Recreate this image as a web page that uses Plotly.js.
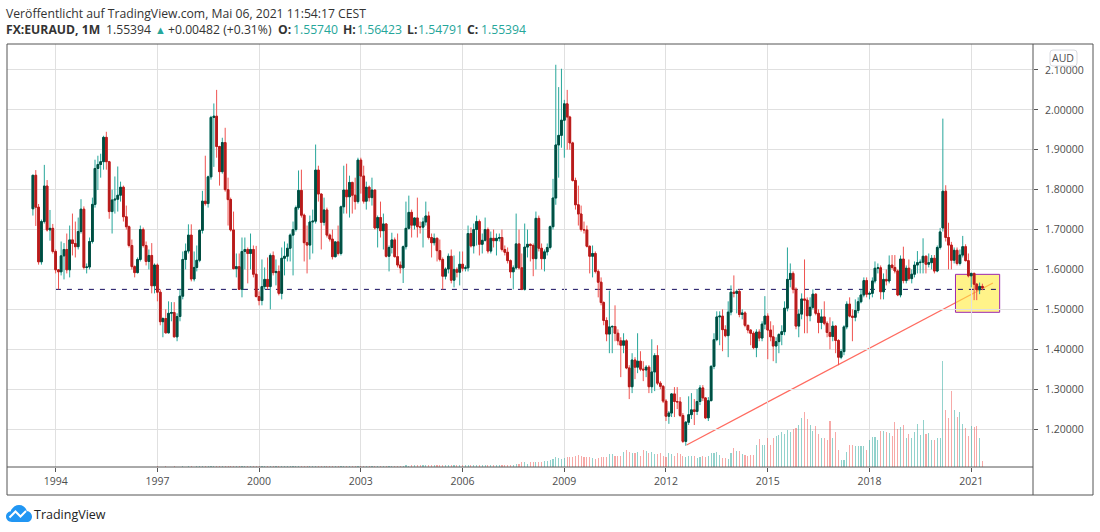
<!DOCTYPE html>
<html>
<head>
<meta charset="utf-8">
<script src="https://cdn.plot.ly/plotly-3.0.1.min.js"></script>
<style>
  html, body {margin: 0; padding: 0; background: #fff;}
  #chart {width: 1100px; height: 532px; position: relative;}
  #logo {position: absolute; left: 6px; top: 505px; z-index: 5;}
</style>
</head>
<body>
<div id="chart"></div>
<svg id="logo" width="26" height="18" viewBox="0 0 26 18">
  <path d="M6 17 C2 17 0 14 0 11.5 C0 8.5 2.5 6.5 4.5 6.5 C6 2.5 9.5 0 13 0 C17 0 20 2.5 20.8 6 C23.8 6.3 26 8.7 26 11.7 C26 14.7 23.7 17 21 17 Z" fill="#2196f3"/>
  <path d="M3.5 12.5 L9.5 6.5 L14.5 11.5 L20 6" fill="none" stroke="#fff" stroke-width="2"/>
</svg>
<script>
/////Data/////
const START_YEAR = 1993;
const START_MONTH = 5;
const opens = [
  1.752,1.836,1.756,1.619,1.720,1.809,1.699,1.703,1.645,1.599,
  1.594,1.634,1.650,1.599,1.674,1.665,1.657,1.695,1.751,1.605,
  1.606,1.670,1.763,1.853,1.863,1.870,1.931,1.870,1.745,1.774,
  1.776,1.786,1.806,1.732,1.707,1.660,1.607,1.592,1.625,1.700,
  1.660,1.620,1.635,1.559,1.611,1.543,1.469,1.477,1.441,1.490,
  1.492,1.431,1.482,1.533,1.625,1.646,1.686,1.576,1.605,1.623,
  1.698,1.771,1.765,1.832,1.981,1.984,1.908,1.845,1.918,1.800,
  1.775,1.699,1.602,1.607,1.550,1.645,1.650,1.640,1.650,1.588,
  1.532,1.522,1.557,1.575,1.557,1.635,1.592,1.595,1.540,1.628,
  1.633,1.653,1.686,1.700,1.755,1.798,1.736,1.667,1.661,1.719,
  1.721,1.849,1.789,1.718,1.749,1.686,1.676,1.632,1.669,1.640,
  1.757,1.799,1.782,1.818,1.786,1.770,1.874,1.834,1.771,1.806,
  1.780,1.799,1.704,1.730,1.697,1.714,1.633,1.655,1.674,1.632,
  1.611,1.604,1.657,1.703,1.743,1.711,1.729,1.707,1.706,1.719,
  1.734,1.680,1.667,1.678,1.647,1.625,1.583,1.601,1.633,1.573,
  1.600,1.593,1.613,1.603,1.604,1.690,1.659,1.700,1.720,1.663,
  1.673,1.700,1.646,1.678,1.672,1.678,1.680,1.650,1.643,1.622,
  1.594,1.604,1.664,1.604,1.550,1.656,1.663,1.660,1.627,1.728,
  1.653,1.627,1.644,1.655,1.707,1.779,1.912,1.936,1.974,2.015,
  1.982,1.917,1.823,1.762,1.739,1.700,1.699,1.658,1.633,1.640,
  1.595,1.568,1.517,1.472,1.438,1.456,1.457,1.440,1.421,1.410,
  1.421,1.353,1.306,1.373,1.355,1.370,1.350,1.348,1.355,1.306,
  1.343,1.384,1.315,1.307,1.270,1.232,1.240,1.288,1.269,1.268,
  1.234,1.169,1.217,1.236,1.248,1.244,1.269,1.303,1.278,1.228,
  1.271,1.357,1.424,1.481,1.483,1.449,1.434,1.493,1.543,1.540,
  1.545,1.487,1.491,1.460,1.448,1.440,1.404,1.443,1.428,1.463,
  1.483,1.448,1.431,1.408,1.419,1.437,1.444,1.503,1.575,1.590,
  1.550,1.458,1.488,1.526,1.523,1.484,1.505,1.538,1.490,1.467,
  1.481,1.465,1.442,1.432,1.458,1.422,1.380,1.394,1.456,1.513,
  1.483,1.480,1.497,1.519,1.536,1.572,1.538,1.540,1.571,1.603,
  1.604,1.544,1.575,1.571,1.611,1.605,1.596,1.536,1.626,1.572,
  1.603,1.577,1.588,1.611,1.617,1.618,1.633,1.613,1.617,1.628,
  1.596,1.655,1.704,1.796,1.680,1.661,1.623,1.648,1.615,1.636,
  1.657,1.622,1.584,1.590,1.563,1.549,1.5574
];
const highs = [
  1.836,1.849,1.764,1.725,1.862,1.824,1.749,1.714,1.650,1.600,
  1.670,1.666,1.690,1.710,1.740,1.720,1.730,1.776,1.758,1.615,
  1.680,1.780,1.875,1.885,1.890,1.935,1.945,1.872,1.800,1.833,
  1.858,1.820,1.810,1.760,1.710,1.675,1.610,1.630,1.710,1.705,
  1.670,1.650,1.666,1.615,1.615,1.550,1.480,1.500,1.520,1.518,
  1.518,1.490,1.550,1.645,1.665,1.713,1.713,1.645,1.660,1.700,
  1.797,1.885,1.835,1.985,2.016,2.050,1.910,1.930,1.955,1.830,
  1.780,1.745,1.640,1.640,1.680,1.680,1.655,1.690,1.660,1.659,
  1.545,1.625,1.605,1.630,1.640,1.645,1.625,1.610,1.655,1.670,
  1.665,1.690,1.720,1.760,1.848,1.850,1.740,1.710,1.735,1.750,
  1.913,1.860,1.790,1.780,1.755,1.690,1.700,1.670,1.710,1.760,
  1.860,1.865,1.835,1.820,1.830,1.880,1.880,1.860,1.820,1.810,
  1.830,1.800,1.735,1.770,1.740,1.715,1.660,1.692,1.680,1.690,
  1.620,1.660,1.770,1.785,1.750,1.730,1.780,1.720,1.730,1.770,
  1.745,1.690,1.690,1.680,1.675,1.630,1.605,1.640,1.650,1.635,
  1.605,1.645,1.645,1.610,1.710,1.705,1.715,1.735,1.725,1.690,
  1.730,1.705,1.695,1.700,1.690,1.690,1.700,1.660,1.655,1.625,
  1.610,1.740,1.700,1.640,1.715,1.700,1.665,1.665,1.745,1.735,
  1.665,1.650,1.665,1.710,1.827,2.113,2.057,2.103,2.025,2.050,
  1.985,1.920,1.830,1.810,1.760,1.720,1.710,1.660,1.660,1.645,
  1.600,1.580,1.520,1.480,1.547,1.460,1.510,1.450,1.430,1.440,
  1.425,1.360,1.390,1.380,1.440,1.395,1.370,1.360,1.360,1.425,
  1.390,1.410,1.320,1.310,1.275,1.245,1.290,1.305,1.305,1.280,
  1.240,1.220,1.282,1.290,1.275,1.300,1.310,1.310,1.280,1.280,
  1.360,1.440,1.495,1.495,1.500,1.460,1.520,1.560,1.585,1.550,
  1.550,1.500,1.495,1.460,1.450,1.445,1.450,1.450,1.470,1.533,
  1.490,1.470,1.460,1.430,1.440,1.460,1.520,1.655,1.615,1.595,
  1.555,1.500,1.540,1.625,1.530,1.530,1.550,1.540,1.500,1.500,
  1.520,1.470,1.480,1.470,1.460,1.425,1.400,1.460,1.520,1.530,
  1.500,1.525,1.530,1.550,1.580,1.580,1.545,1.580,1.620,1.615,
  1.610,1.590,1.600,1.635,1.636,1.636,1.600,1.635,1.657,1.610,
  1.625,1.600,1.620,1.646,1.625,1.678,1.635,1.640,1.636,1.636,
  1.660,1.704,1.978,1.811,1.717,1.669,1.655,1.655,1.650,1.684,
  1.663,1.640,1.592,1.592,1.566,1.567,1.56423
];
const lows = [
  1.735,1.709,1.612,1.612,1.715,1.695,1.672,1.640,1.590,1.550,
  1.585,1.575,1.590,1.580,1.635,1.630,1.650,1.690,1.600,1.590,
  1.600,1.665,1.755,1.799,1.830,1.850,1.850,1.727,1.690,1.740,
  1.745,1.770,1.720,1.700,1.655,1.600,1.580,1.590,1.620,1.655,
  1.610,1.600,1.540,1.540,1.520,1.460,1.430,1.440,1.440,1.470,
  1.430,1.420,1.470,1.525,1.600,1.640,1.570,1.570,1.595,1.618,
  1.690,1.760,1.755,1.825,1.857,1.880,1.810,1.840,1.795,1.710,
  1.695,1.600,1.580,1.550,1.530,1.600,1.565,1.600,1.580,1.530,
  1.510,1.510,1.550,1.550,1.500,1.585,1.560,1.535,1.525,1.585,
  1.620,1.620,1.585,1.695,1.750,1.730,1.620,1.590,1.625,1.640,
  1.715,1.770,1.650,1.710,1.680,1.670,1.625,1.630,1.635,1.635,
  1.740,1.740,1.730,1.740,1.750,1.765,1.790,1.765,1.750,1.770,
  1.760,1.700,1.655,1.680,1.650,1.630,1.595,1.640,1.630,1.605,
  1.590,1.566,1.650,1.700,1.680,1.700,1.680,1.690,1.655,1.710,
  1.675,1.630,1.660,1.620,1.620,1.550,1.575,1.590,1.565,1.555,
  1.580,1.560,1.595,1.595,1.595,1.655,1.640,1.660,1.635,1.640,
  1.670,1.640,1.640,1.655,1.635,1.670,1.645,1.635,1.615,1.578,
  1.550,1.600,1.600,1.548,1.547,1.630,1.620,1.583,1.600,1.645,
  1.600,1.595,1.635,1.650,1.700,1.762,1.830,1.905,1.880,1.900,
  1.900,1.820,1.750,1.710,1.695,1.690,1.655,1.590,1.580,1.590,
  1.530,1.510,1.460,1.420,1.390,1.390,1.420,1.410,1.330,1.390,
  1.350,1.275,1.290,1.325,1.340,1.345,1.320,1.330,1.290,1.290,
  1.295,1.310,1.300,1.265,1.220,1.213,1.230,1.230,1.250,1.230,
  1.165,1.158,1.210,1.225,1.210,1.235,1.260,1.270,1.225,1.220,
  1.270,1.350,1.420,1.410,1.395,1.430,1.380,1.485,1.530,1.490,
  1.480,1.475,1.455,1.440,1.410,1.400,1.380,1.420,1.420,1.450,
  1.375,1.420,1.370,1.365,1.390,1.410,1.435,1.495,1.555,1.540,
  1.450,1.430,1.475,1.440,1.440,1.470,1.500,1.485,1.440,1.450,
  1.460,1.430,1.400,1.420,1.390,1.360,1.375,1.385,1.450,1.480,
  1.420,1.470,1.490,1.515,1.530,1.530,1.525,1.530,1.565,1.590,
  1.525,1.525,1.560,1.565,1.600,1.590,1.533,1.530,1.565,1.565,
  1.572,1.565,1.580,1.590,1.590,1.590,1.590,1.605,1.600,1.590,
  1.593,1.650,1.695,1.670,1.600,1.600,1.615,1.610,1.610,1.630,
  1.620,1.580,1.555,1.523,1.523,1.538,1.54791
];
const closes = [
  1.836,1.756,1.619,1.720,1.809,1.699,1.703,1.645,1.599,1.594,
  1.634,1.650,1.599,1.674,1.665,1.657,1.695,1.751,1.605,1.606,
  1.670,1.763,1.853,1.863,1.870,1.931,1.870,1.745,1.774,1.776,
  1.786,1.806,1.732,1.707,1.660,1.607,1.592,1.625,1.700,1.660,
  1.620,1.635,1.559,1.611,1.543,1.469,1.477,1.441,1.490,1.492,
  1.431,1.482,1.533,1.625,1.646,1.686,1.576,1.605,1.623,1.698,
  1.771,1.765,1.832,1.981,1.984,1.908,1.845,1.918,1.800,1.775,
  1.699,1.602,1.607,1.550,1.645,1.650,1.640,1.650,1.588,1.532,
  1.522,1.557,1.575,1.557,1.635,1.592,1.595,1.540,1.628,1.633,
  1.653,1.686,1.700,1.755,1.798,1.736,1.667,1.661,1.719,1.721,
  1.849,1.789,1.718,1.749,1.686,1.676,1.632,1.669,1.640,1.757,
  1.799,1.782,1.818,1.786,1.770,1.874,1.834,1.771,1.806,1.780,
  1.799,1.704,1.730,1.697,1.714,1.633,1.655,1.674,1.632,1.611,
  1.604,1.657,1.703,1.743,1.711,1.729,1.707,1.706,1.719,1.734,
  1.680,1.667,1.678,1.647,1.625,1.583,1.601,1.633,1.573,1.600,
  1.593,1.613,1.603,1.604,1.690,1.659,1.700,1.720,1.663,1.673,
  1.700,1.646,1.678,1.672,1.678,1.680,1.650,1.643,1.622,1.594,
  1.604,1.664,1.604,1.550,1.656,1.663,1.660,1.627,1.728,1.653,
  1.627,1.644,1.655,1.707,1.779,1.912,1.936,1.974,2.015,1.982,
  1.917,1.823,1.762,1.739,1.700,1.699,1.658,1.633,1.640,1.595,
  1.568,1.517,1.472,1.438,1.456,1.457,1.440,1.421,1.410,1.421,
  1.353,1.306,1.373,1.355,1.370,1.350,1.348,1.355,1.306,1.343,
  1.384,1.315,1.307,1.270,1.232,1.240,1.288,1.269,1.268,1.234,
  1.169,1.217,1.236,1.248,1.244,1.269,1.303,1.278,1.228,1.271,
  1.357,1.424,1.481,1.483,1.449,1.434,1.493,1.543,1.540,1.545,
  1.487,1.491,1.460,1.448,1.440,1.404,1.443,1.428,1.463,1.483,
  1.448,1.431,1.408,1.419,1.437,1.444,1.503,1.575,1.590,1.550,
  1.458,1.488,1.526,1.523,1.484,1.505,1.538,1.490,1.467,1.481,
  1.465,1.442,1.432,1.458,1.422,1.380,1.394,1.456,1.513,1.483,
  1.480,1.497,1.519,1.536,1.572,1.538,1.540,1.571,1.603,1.604,
  1.544,1.575,1.571,1.611,1.605,1.596,1.536,1.626,1.572,1.603,
  1.577,1.588,1.611,1.617,1.618,1.633,1.613,1.617,1.628,1.596,
  1.655,1.694,1.796,1.680,1.661,1.623,1.648,1.615,1.636,1.657,
  1.622,1.584,1.590,1.563,1.549,1.5574,1.55394
];
// volume, unit is arbitrary: pixels of bar height in the picture
const volumes = [
  .4,.4,.5,.4,.4,.5,.4,.4,.5,.4, .4,.5,.4,.4,.5,.4,.4,.5,.4,.4,
  .5,.4,.4,.5,.4,.4,.5,.4,.4,.5, .4,.5,.5,.4,.5,.5,.4,.5,.5,.4,
  .5,.5,.5,.5,.6,.5,.5,.6,.5,.5, .6,.5,.5,.6,.5,.6,.6,.5,.6,.6,
  .6,.6,.7,.6,.6,.7,.7,.6,.7,.7, .7,.7,.8,.7,.7,.8,.8,.7,.8,.8,
  .8,.8,.9,.8,.9,.9,.9,.8,.9,.9, 1,.9,.9,1,1,.9,1,1,1,1,
  1,1,1.1,1,1,1.1,1.1,1,1.1,1.1, 1.2,1.1,1.2,1.2,1.1,1.2,1.2,1.3,1.2,1.3,
  1.3,1.3,1.3,1.4,1.3,1.4,1.4,1.4,1.5,1.4,
  1.5,1.5,1.6,1.5,1.6,1.6,1.7,1.6,1.7,1.7,
  1.7,1.8,1.7,1.8,1.8,1.8,1.9,1.8,1.9,1.9,
  1.9,1.9,1.8,1.9,2,1.9,1.9,2,1.9,2,
  1.9,2,2,2,2,
  2,2,2,2,2,2.3,3.3,3.3,4.7,5.3,
  3.3,5.3,4.7,5.3,5.3,5.3,6.3,6.3,7.3,8.3,
  10,9,8.3,9,9.7,9.7,10.3,11.3,12.3,11.3,
  9.7,9.7,10,9,8.3,9,10,9.7,9.7,12.7,
  13.3,10.7,10.7,10.7,15.3,17.3,14.7,14.3,14,14.7,
  11.3,16.7,15.7,14,15,13.3,13.3,14,11.3,10,
  14.3,13.3,11.3,14,13.3,10.7,10,10.7,10.7,10.7,
  9,10,10.7,10,10.7,14,14,14.7,12.3,9.3,
  9.3,8.3,14,19,16.3,16.3,13.3,12.3,11.3,12,
  12.3,22.3,28,22.3,22.3,28.7,21.7,28.7,30.7,31.7,
  35.3,33.3,36.7,34.7,38,39.3,42.3,49,55.3,48,
  42.3,36.3,41.3,33.3,28.7,29.3,27.3,46.3,29,34.7,
  16.7,7.3,6.7,15.3,22.3,22.3,21.3,20.7,20.7,20.7,
  17.3,27.3,30,30,27.3,35.7,36.3,35.3,34,31.3,
  45.3,38.3,39.7,42.3,29,33.3,29,35,43.3,32.3,
  47.3,33,34,26.7,26.7,29,29,106.3,56.7,48.7,
  75.7,56.7,50,54.7,43.3,39,31.3,41.3,39.7,41.3,
  28.7,6.3
];
const priceTicks = [1.2, 1.3, 1.4, 1.5, 1.6, 1.7, 1.8, 1.9, 2.0, 2.1];
const yearTicks = ['1994', '1997', '2000', '2003', '2006', '2009', '2012', '2015', '2018', '2021'];
// drawings on the chart
const LEVEL_X = ['1994-01-04', '2021-10-15'];
const LEVEL_Y = 1.55;
const TREND_X = ['2012-08-10', '2021-08-22'];
const TREND_Y = [1.16, 1.566];
const BOX_X = ['2020-07-15', '2021-11-03'];
const BOX_Y = [1.4925, 1.5877];

/////Colours and fonts/////
const UP_WICK = '#26a69a';
const DOWN_WICK = '#ef5350';
const UP_BODY = '#004d40';
const DOWN_BODY = '#b71c1c';
const FONT = 'Open Sans, sans-serif';
const AXIS_COLOR = '#4d4d4d';

/////Page geometry, pixels/////
const PLOT_L = 7, PLOT_R = 1033, PLOT_T = 44, PLOT_B = 467;
function paperX(px) {return (px - PLOT_L) / (PLOT_R - PLOT_L);}
function paperY(py) {return (PLOT_B - py) / (PLOT_B - PLOT_T);}

let months = closes.map((c, i) => {
  let total = START_YEAR * 12 + START_MONTH - 1 + i;
  let m = total % 12 + 1;
  return Math.floor(total / 12) + '-' + (m < 10 ? '0' + m : m) + '-01';
});

/////Traces/////
// plotly has one colour for wick and body, so wicks and bodies are separate traces
let wicks = {
  type: 'candlestick', x: months, open: opens, high: highs, low: lows, close: closes,
  increasing: {line: {color: UP_WICK, width: 1}, fillcolor: UP_WICK},
  decreasing: {line: {color: DOWN_WICK, width: 1}, fillcolor: DOWN_WICK},
  whiskerwidth: 0, hoverinfo: 'skip', showlegend: false
};
let bodies = {
  type: 'candlestick', x: months, open: opens, close: closes,
  high: opens.map((o, i) => Math.max(o, closes[i])),
  low: opens.map((o, i) => Math.min(o, closes[i])),
  increasing: {line: {color: UP_BODY, width: 1}, fillcolor: UP_BODY},
  decreasing: {line: {color: DOWN_BODY, width: 1}, fillcolor: DOWN_BODY},
  whiskerwidth: 0, hoverinfo: 'skip', showlegend: false
};
let volumeBars = {
  type: 'bar', x: months, y: volumes, yaxis: 'y2',
  width: 1000 * 3600 * 24 * 12,
  marker: {
    color: closes.map((c, i) => c >= opens[i] ? 'rgba(38,166,154,0.5)' : 'rgba(239,83,80,0.5)'),
    line: {width: 0}
  },
  hoverinfo: 'skip', showlegend: false
};

/////Header and other texts/////
function label(px, py, text, size, color, anchor) {
  return {
    xref: 'paper', yref: 'paper', x: paperX(px), y: paperY(py), text: text,
    showarrow: false, xanchor: anchor || 'left', yanchor: 'middle',
    font: {family: FONT, size: size, color: color}
  };
}
const TXT = '#333333';
const TEAL = '#26a69a';
const HEAD_SIZE = 12.2;
let annotations = [
  label(4, 13, 'Veröffentlicht auf TradingView.com, Mai 06, 2021 11:54:17 CEST', HEAD_SIZE, TXT),
  label(4, 30, '<b>FX:EURAUD, 1M</b>', HEAD_SIZE, TXT),
  label(104, 30, '1.55394', HEAD_SIZE, TXT),
  label(153, 30, '▲', 11, TEAL),
  label(166, 30, '+0.00482 (+0.31%)', HEAD_SIZE, TXT),
  label(276, 30, '<b>O:</b>', HEAD_SIZE, TXT),
  label(291, 30, '1.55740', HEAD_SIZE, TEAL),
  label(341, 30, '<b>H:</b>', HEAD_SIZE, TXT),
  label(355, 30, '1.56423', HEAD_SIZE, TEAL),
  label(405, 30, '<b>L:</b>', HEAD_SIZE, TXT),
  label(416, 30, '1.54791', HEAD_SIZE, TEAL),
  label(465, 30, '<b>C:</b>', HEAD_SIZE, TXT),
  label(479, 30, '1.55394', HEAD_SIZE, TEAL),
  label(1063, 58, 'AUD', 10.5, AXIS_COLOR, 'center'),
  label(32, 514, 'TradingView', 12.5, '#222222')
];

/////Shapes/////
function frameLine(x0, y0, x1, y1) {
  return {
    type: 'line', xref: 'paper', yref: 'paper', layer: 'above',
    x0: paperX(x0), y0: paperY(y0), x1: paperX(x1), y1: paperY(y1),
    line: {color: '#555555', width: 1}
  };
}
let badge = 'M' + paperX(1053) + ',' + paperY(50) +
  ' L' + paperX(1074) + ',' + paperY(50) +
  ' Q' + paperX(1077) + ',' + paperY(50) + ' ' + paperX(1077) + ',' + paperY(53) +
  ' L' + paperX(1077) + ',' + paperY(63) +
  ' Q' + paperX(1077) + ',' + paperY(66) + ' ' + paperX(1074) + ',' + paperY(66) +
  ' L' + paperX(1053) + ',' + paperY(66) +
  ' Q' + paperX(1050) + ',' + paperY(66) + ' ' + paperX(1050) + ',' + paperY(63) +
  ' L' + paperX(1050) + ',' + paperY(53) +
  ' Q' + paperX(1050) + ',' + paperY(50) + ' ' + paperX(1053) + ',' + paperY(50) + ' Z';
let shapes = [
  {type: 'line', xref: 'x', yref: 'y', layer: 'below', x0: TREND_X[0], x1: TREND_X[1], y0: TREND_Y[0], y1: TREND_Y[1],
   line: {color: '#ff6b60', width: 1.3}},
  {type: 'rect', xref: 'x', yref: 'y', layer: 'below', x0: BOX_X[0], x1: BOX_X[1], y0: BOX_Y[0], y1: BOX_Y[1],
   fillcolor: 'rgba(255,235,59,0.6)', line: {color: '#9c27b0', width: 1}},
  {type: 'line', xref: 'x', yref: 'y', layer: 'below', x0: LEVEL_X[0], x1: LEVEL_X[1], y0: LEVEL_Y, y1: LEVEL_Y,
   line: {color: '#150c5e', width: 1, dash: '5px,6px'}},
  frameLine(7, 44, 1093, 44),
  frameLine(7, 44, 7, 495),
  frameLine(1093, 44, 1093, 495),
  frameLine(7, 495, 1093, 495),
  frameLine(1033, 44, 1033, 495),
  frameLine(7, 467, 1033, 467),
  {type: 'path', xref: 'paper', yref: 'paper', layer: 'above', path: badge,
   fillcolor: '#ffffff', line: {color: '#d8dae0', width: 1}}
];

/////Layout/////
let layout = {
  width: 1100, height: 532,
  margin: {l: PLOT_L, r: 1100 - PLOT_R, t: PLOT_T, b: 532 - PLOT_B, pad: 0},
  paper_bgcolor: '#ffffff', plot_bgcolor: '#ffffff',
  showlegend: false, dragmode: false,
  boxmode: 'overlay', boxgap: 0.35, boxgroupgap: 0,
  xaxis: {
    type: 'date', range: ['1992-07-26', '2022-10-28'],
    tickvals: yearTicks.map((y) => y + '-01-01'), ticktext: yearTicks,
    showgrid: true, gridcolor: '#e0e0e0', gridwidth: 1, zeroline: false,
    ticks: 'outside', ticklen: 4, tickcolor: '#555555', showline: false,
    tickfont: {family: FONT, size: 10.5, color: AXIS_COLOR},
    rangeslider: {visible: false}, fixedrange: true
  },
  yaxis: {
    range: [1.1048, 2.165], side: 'right',
    tickvals: priceTicks, tickformat: '.5f',
    showgrid: true, gridcolor: '#e0e0e0', gridwidth: 1, zeroline: false,
    ticks: 'outside', ticklen: 4, tickcolor: '#555555', showline: false,
    ticklabelstandoff: 5,
    tickfont: {family: FONT, size: 10.5, color: AXIS_COLOR},
    fixedrange: true
  },
  yaxis2: {
    overlaying: 'y', side: 'left', range: [0, PLOT_B - PLOT_T],
    visible: false, showgrid: false, zeroline: false, fixedrange: true
  },
  bargap: 0,
  annotations: annotations,
  shapes: shapes
};

Plotly.newPlot('chart', [volumeBars, wicks, bodies], layout, {displayModeBar: false, responsive: false});
</script>
</body>
</html>
